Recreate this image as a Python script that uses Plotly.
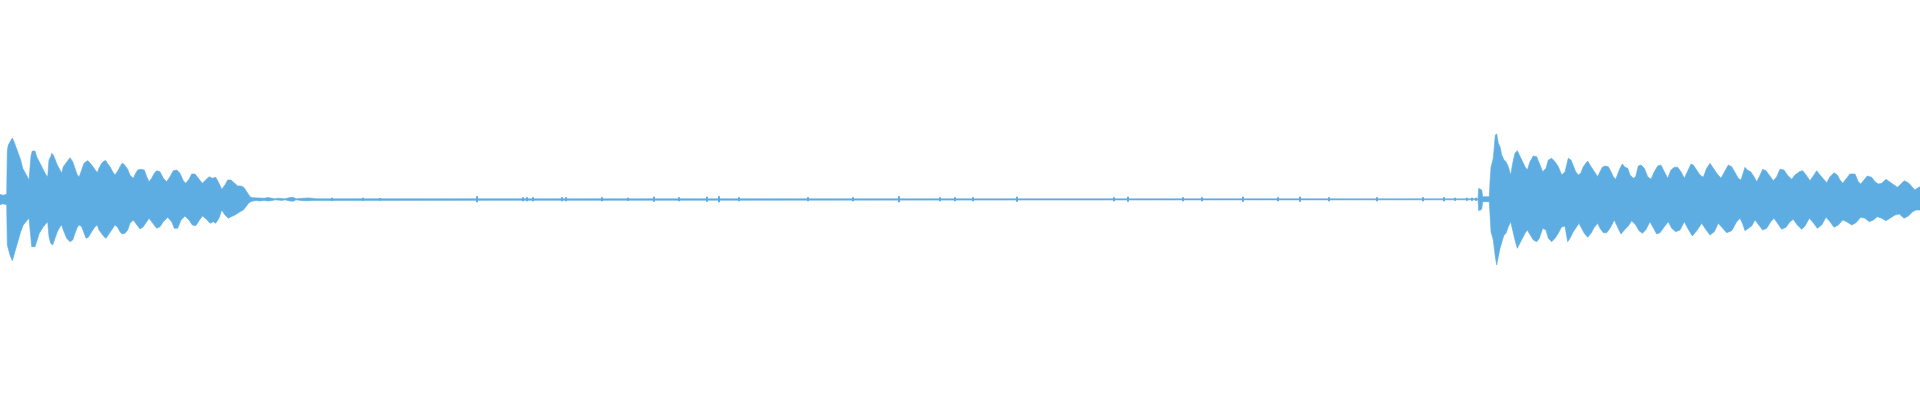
import plotly.graph_objects as go

# Waveform envelope: time in display columns, amplitude in sample units
# (top = positive peak, bot = magnitude of negative peak)

# first hit
hit1_top_t = [0, 3, 6.7, 7.3, 8.3, 10.7, 12.3, 14, 16, 18.3, 20.7, 22.7, 25, 27.3, 29, 30, 31, 32.3, 35, 36.7,
              39.3, 41.7, 44, 46, 47.7, 49, 50.7, 51.7, 53.3, 55, 57.3, 60, 61.7, 63.3, 66.7, 70, 72.7, 75,
              77.3, 79.3, 81.7, 84, 87.3, 88.3, 91.7, 95, 97.3, 99, 101.7, 104, 106, 107.3, 110, 112.7, 115,
              117.3, 120, 122, 124, 127.7, 130, 133.3, 135.7, 137.7, 141, 144.3, 146.7, 149, 151.7, 154.3,
              156.7, 160, 163.3, 166.7, 170, 173.3, 176.7, 180, 183.3, 185.7, 189, 191.7, 195, 198.3, 202.3,
              205.7, 209, 212.3, 215.7, 219, 221.7, 225, 227.7, 231, 234.3, 237.7, 241, 243.7, 246.7, 250]
hit1_top = [5, 4, 5, 48.6, 54.3, 59.3, 61.3, 57.6, 52.6, 46, 39.3, 31, 26, 22.6, 19.3, 29.3, 43.3, 48.3, 48.3, 42.6,
            37.6, 32.6, 27.6, 24.3, 22.6, 39.3, 42.6, 46, 44.3, 39.3, 34.3, 29.3, 26, 32.6, 37.6, 41.6, 37.6, 31,
            24.3, 22.6, 29.3, 36, 38.6, 38.3, 34.3, 29.3, 26.6, 31, 36, 38.3, 38.6, 36, 32.6, 27.6, 24.3,
            27.6, 33.3, 36, 35, 30, 24, 21, 26, 29.3, 30, 29.3, 22.6, 17.6, 21, 26,
            28.6, 27.6, 21, 17.6, 22.6, 28.6, 29.3, 26, 18.6, 16, 20, 25.3, 25.3, 21, 16,
            19.3, 22.6, 21, 22, 16, 10, 14.3, 19.3, 19.3, 16.6, 13.3, 13.3, 12, 7.6, 2.6]
hit1_bot_t = [0, 3, 6.7, 7.3, 8.3, 10, 12.3, 14, 16, 18.3, 20.7, 23.3, 26.7, 29, 30.7, 31.7, 35, 36.7, 39.3, 43.3,
              47.7, 49, 50.7, 52.7, 55, 57.3, 60, 61.7, 63.3, 66.7, 70, 72.7, 75, 77.3, 79.3, 81.7, 84, 86,
              88.3, 91.7, 95, 97.3, 99, 101.7, 104, 106, 110, 112.7, 115, 117.3, 120, 122, 125, 127.7, 130,
              133.3, 136.7, 140, 143.3, 146.7, 149, 152.3, 156.7, 160, 163.3, 167.7, 171.7, 174.3, 177.7,
              181, 185, 189, 192.3, 195.7, 199, 202.3, 206.7, 210, 213.3, 215.7, 219, 221.7, 225, 228.3, 231,
              235, 240, 243.3, 246.7, 249, 251.7]
hit1_bot = [5.5, 4.5, 5.5, 45.7, 47.4, 55.7, 61.4, 55.7, 47.4, 40.7, 32.4, 25.7, 21.4, 19, 37.4, 47.4, 47.4, 42.4, 34, 27.4,
            22.4, 37.4, 44, 45.7, 39, 32.4, 27.4, 25.7, 30.7, 39, 42.4, 40.7, 34, 28, 25.7, 27.4, 34, 39,
            38, 32.4, 27.4, 25.7, 30.7, 34, 37.4, 39, 34, 29, 25.7, 27.4, 32.4, 34.7, 34, 30.7, 24,
            20.7, 25.7, 29.7, 27.4, 22.4, 19, 23.4, 29, 27.4, 22.4, 18, 22.4, 29, 29,
            20.7, 16.7, 20.7, 25.7, 26.4, 21.4, 16.7, 20, 24, 22.4, 24, 19, 10.7, 15.7, 19, 17.4,
            15.7, 12.4, 10.7, 6.7, 3.4, 2]

# quiet stretch between the hits (symmetric floor)
floor_t = [252, 256, 260, 264, 268, 272, 275, 278, 282, 285, 290, 293, 296, 303, 308, 312, 316, 1477]
floor_amp = [1.6, 1.3, 1.7, 1.1, 1.7, 1.3, 0.5, 1.1, 1.1, 0.5, 1.7, 2, 0.5, 1.4, 1.4, 1.1, 0.5, 0.5]

# isolated clicks in the quiet stretch
click_t = [331.7, 363, 380, 477, 523, 527, 533, 562, 566, 602, 628, 654, 679, 707, 719, 739, 808, 853, 899, 940,
           955, 973, 1017, 1114, 1128, 1183, 1202, 1243, 1278, 1300, 1329, 1377, 1423, 1444, 1455, 1467,
           1472, 1476]
click_amp = [1.5, 1.5, 1.2, 3, 2, 2, 2, 2, 2, 2, 1.5, 2.5, 2, 2.5, 3, 2, 2, 2, 3, 2,
             2, 2, 2.5, 2, 2.5, 2, 2, 2.5, 2, 2.5, 2, 2, 2, 2, 1.5, 1.5,
             1.5, 1.5]

# second hit
hit2_top_t = [1478, 1478.7, 1480, 1481.7, 1482.7, 1489.3, 1490, 1491, 1493.3, 1494.3, 1495.3, 1496.7, 1498.3, 1500,
              1501.7, 1504, 1506, 1508.3, 1510.7, 1512.7, 1515, 1517.3, 1519.3, 1521.7, 1525, 1527.3, 1530,
              1533.3, 1536.7, 1539.3, 1542.7, 1546, 1548.3, 1551.7, 1555, 1558.3, 1561.7, 1565, 1567.3, 1568.3,
              1571, 1573.3, 1575.7, 1578.3, 1580.7, 1583.3, 1585.7, 1587.7, 1590, 1592.3, 1595, 1597.7, 1600,
              1602.3, 1605, 1608.3, 1611, 1613.3, 1615.7, 1617.7, 1620, 1622.3, 1625, 1627.7, 1630, 1633.3,
              1635.7, 1638.3, 1641, 1644.3, 1647.7, 1651, 1654.3, 1657.7, 1661, 1664.3, 1667.7, 1671, 1674.3,
              1677.7, 1681, 1684.3, 1687.7, 1691, 1693.3, 1696.7, 1700, 1703.3, 1706.7, 1710, 1713.3, 1716.7,
              1721, 1724.3, 1728.3, 1731.7, 1735, 1738.3, 1741, 1743.3, 1745, 1747.3, 1750.7, 1754, 1756.7,
              1759.3, 1762.7, 1766, 1769.3, 1773.3, 1776.7, 1780, 1784, 1787.3, 1791.7, 1795, 1799.3, 1802.7,
              1806, 1810, 1813.3, 1816.7, 1820, 1823.3, 1826.7, 1830, 1834, 1837.3, 1840, 1842.7, 1846, 1850,
              1855, 1858.3, 1860.7, 1864, 1867.3, 1871.7, 1875, 1878.3, 1881.7, 1886, 1889.3, 1893.3, 1897.3,
              1900, 1904, 1908.3, 1911.7, 1915, 1917.3, 1920]
hit2_top = [0.5, 11, 10, 9.3, 2.6, 2.6, 17.6, 32, 41, 56, 64.3, 65.3, 56, 52.6,
            44.3, 39.3, 37.6, 32.6, 24.3, 36, 46, 48.6, 44.3, 39.3, 32.6, 29.3, 37.6,
            43.3, 42.6, 36, 27.6, 31, 39.3, 41, 37.6, 32.6, 24.3, 27.6, 39.3, 41,
            39.3, 32.6, 27.6, 24.3, 26, 32.6, 36, 38.3, 34.3, 31, 26, 22.6, 27.6,
            32, 33.3, 32.6, 27.6, 22.6, 20, 26, 31, 35.3, 32, 31, 24.3, 21,
            22.6, 33.3, 34.3, 31, 22.6, 20, 27.6, 33.3, 34.3, 27.6, 21, 29.3, 32,
            32, 27.6, 21, 27.6, 35.3, 34.3, 29.3, 24.3, 22, 31, 36, 31, 26,
            21, 27.6, 34.3, 32.6, 26, 21, 19.3, 27.6, 32, 29.3, 27.6, 22.6, 17.6,
            22.6, 30, 28.6, 24.3, 18.6, 22.6, 30, 29.3, 24.3, 20, 24.3, 27.6, 28.6,
            24.3, 18.6, 23.3, 28.6, 24.3, 21, 16.6, 22.6, 26.6, 24.3, 19.3, 16, 20, 25.3,
            25.3, 17.6, 15.3, 19.3, 23.3, 22, 17.6, 15.3, 16, 20, 17.6, 14.3, 12,
            14.3, 18.6, 16.6, 12.6, 9.3, 11, 12.6]
hit2_bot_t = [1478, 1478.7, 1481.7, 1482.7, 1489.3, 1490, 1491, 1493.3, 1494.3, 1495.3, 1496.7, 1498.3, 1500,
              1501.7, 1504, 1506, 1508.3, 1510.7, 1512.7, 1515, 1517.3, 1519.3, 1521.7, 1525, 1527.3, 1530,
              1533.3, 1536.7, 1539.3, 1542.7, 1546, 1548.3, 1551.7, 1555, 1558.3, 1561.7, 1565, 1567.7, 1570,
              1573.3, 1576.7, 1579, 1581.7, 1584.3, 1587.7, 1591, 1594.3, 1597.7, 1600, 1603.3, 1606.7, 1610,
              1614.3, 1617.7, 1621, 1624.3, 1628.3, 1631.7, 1635.7, 1639, 1642.3, 1645.7, 1650, 1653.3, 1656.7,
              1660, 1664.3, 1668.3, 1671.7, 1675.7, 1680, 1684.3, 1688.3, 1692.3, 1696.7, 1701.7, 1705.7, 1710,
              1714.3, 1718.3, 1722.3, 1726.7, 1731.7, 1736.7, 1740, 1742.7, 1745, 1748.3, 1751.7, 1755, 1758.3,
              1762.7, 1766.7, 1770.7, 1774, 1777.3, 1781.7, 1786, 1790, 1793.3, 1797.3, 1801.7, 1805, 1809.3,
              1813.3, 1817.3, 1821.7, 1826, 1830, 1834, 1838.3, 1842.7, 1846.7, 1851.7, 1856, 1860.7, 1865,
              1869.3, 1873.3, 1877.3, 1881.7, 1886, 1890, 1895, 1899.3, 1904, 1908.3, 1912.7, 1916, 1920]
hit2_bot = [0.5, 11.4, 10, 2.4, 2.4, 19, 32.4, 40.7, 50.7, 57.4, 65.7, 57.4, 49,
            42.4, 35.7, 34, 27.4, 22.4, 30.7, 40.7, 49, 45.7, 40.7, 34, 30.7, 35.7,
            40.7, 42.4, 39, 29, 30.7, 39, 42.4, 39, 34, 27.4, 27, 42.4, 39,
            32.4, 27.4, 24, 29, 34, 38, 34, 28, 24, 29, 33.4, 33.4, 29,
            20.7, 28, 34.7, 30.7, 26.7, 21.4, 25.7, 31.4, 34, 30.7, 22.4, 28, 34.7,
            33.4, 27.4, 22.4, 29, 32.4, 30.7, 22.4, 30, 36.7, 31.4, 24, 30, 35.7,
            32.4, 24, 29, 33.4, 31.4, 22.4, 19, 24.7, 31.4, 29, 26.7, 20.7, 24.7,
            30.7, 29, 22.4, 19, 24, 30, 28, 22.4, 20, 25.7, 30, 26.7, 19,
            23.4, 29, 25.7, 18, 22.4, 28, 25.7, 20.7, 22.4, 25.7, 23.4, 18, 19,
            22.4, 20.7, 17.4, 19, 21.4, 19, 15.7, 14.7, 19, 16.7, 12.4, 10.7, 10.7]

wave_color = "#5dade2"

# outline: upper edge left->right, then lower edge right->left
top_t = hit1_top_t + floor_t + hit2_top_t
top_v = hit1_top + floor_amp + hit2_top
bot_t = hit1_bot_t + floor_t + hit2_bot_t
bot_v = hit1_bot + floor_amp + hit2_bot

fig = go.Figure()
fig.add_trace(go.Scatter(
    x=top_t + bot_t[::-1],
    y=top_v + [-v for v in bot_v[::-1]],
    mode="lines",
    fill="toself",
    fillcolor=wave_color,
    line=dict(color=wave_color, width=0.6),
    hoverinfo="skip",
    showlegend=False,
))
fig.add_trace(go.Bar(
    x=click_t,
    y=[2 * a for a in click_amp],
    base=[-a for a in click_amp],
    width=1.4,
    marker=dict(color=wave_color, line=dict(width=0)),
    hoverinfo="skip",
    showlegend=False,
))

fig.update_layout(
    width=1920,
    height=400,
    margin=dict(l=0, r=0, t=0, b=0),
    paper_bgcolor="white",
    plot_bgcolor="white",
    barmode="overlay",
    xaxis=dict(range=[0, 1920], visible=False, fixedrange=True),
    yaxis=dict(range=[-200.7, 199.3], visible=False, fixedrange=True),
)

# drop the default 8px body margin so the figure fills the window exactly, no modebar
fig.write_html(
    "out.html",
    config={"displayModeBar": False},
    post_script="document.body.style.margin = '0px';",
)
